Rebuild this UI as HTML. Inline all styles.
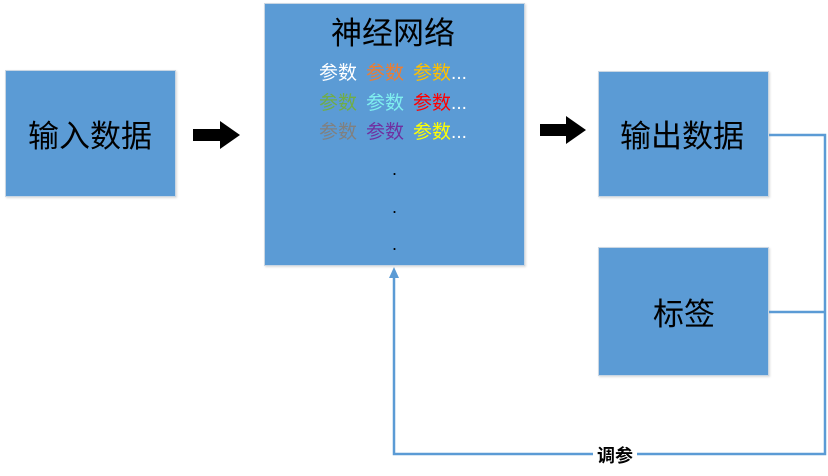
<!DOCTYPE html>
<html><head><meta charset="utf-8"><style>
body{margin:0;width:828px;height:476px;background:#fff;position:relative;overflow:hidden;font-family:"Liberation Sans","Noto Sans CJK SC",sans-serif}
.b{position:absolute;background:#5B9BD5;border:1px solid #c9d6e3;box-sizing:border-box;box-shadow:1px 1px 2px rgba(0,0,0,.15)}
.t{position:absolute;font-size:31px;color:#000;white-space:nowrap}
.p{position:absolute;font-size:19px;white-space:nowrap;left:319px}
.p span{margin-right:9px}
.d{position:absolute;left:392px;font-size:18px;color:#000}
</style></head><body>
<div class="b" style="left:5px;top:70px;width:171px;height:127px"></div>
<div class="t" style="left:28px;top:111px">输入数据</div>
<div class="b" style="left:264px;top:3px;width:261px;height:263px"></div>
<div class="t" style="left:331px;top:8px">神经网络</div>
<div class="p" style="top:58px"><span style="color:#fff">参数</span><span style="color:#ED7D31">参数</span><span style="color:#FFC000;margin:0">参数</span><span style="color:#fff">...</span></div>
<div class="p" style="top:88px"><span style="color:#70AD47">参数</span><span style="color:#7FEFEF">参数</span><span style="color:#FF0000;margin:0">参数</span><span style="color:#fff">...</span></div>
<div class="p" style="top:117px"><span style="color:#808080">参数</span><span style="color:#7030A0">参数</span><span style="color:#FFFF00;margin:0">参数</span><span style="color:#fff">...</span></div>
<div class="d" style="top:159px">.</div>
<div class="d" style="top:197px">.</div>
<div class="d" style="top:234px">.</div>
<div class="b" style="left:598px;top:71px;width:171px;height:126px"></div>
<div class="t" style="left:620px;top:111px">输出数据</div>
<div class="b" style="left:598px;top:247px;width:171px;height:129px"></div>
<div class="t" style="left:653px;top:289px">标签</div>
<svg width="828" height="476" style="position:absolute;left:0;top:0">
<polygon points="193,129 220,129 220,121 240,135 220,149 220,141 193,141" fill="#000"/>
<polygon points="540,124 566,124 566,116 586,130 566,144 566,136 540,136" fill="#000"/>
<g stroke="#5B9BD5" stroke-width="2.5" fill="none">
<polyline points="769,135 825,135 825,454 394,454 394,276"/>
<line x1="769" y1="312" x2="825" y2="312"/>
</g>
<polygon points="394,267 389,278 399,278" fill="#5B9BD5"/>
<rect x="593" y="444" width="44" height="20" fill="#fff"/>
<text x="615" y="462" font-size="18" font-weight="bold" text-anchor="middle" font-family="Liberation Sans,Noto Sans CJK SC,sans-serif">调参</text>
</svg>
</body></html>
